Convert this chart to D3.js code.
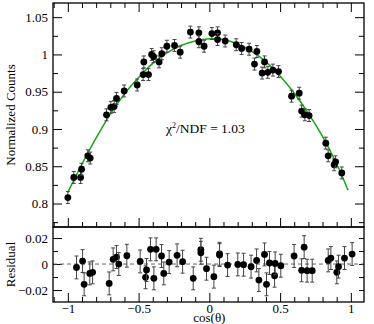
<!DOCTYPE html>
<meta charset="utf-8">
<style>
body { margin: 0; background: #fff; }
svg text { font-family: "Liberation Serif", "Times New Roman", Times, serif !important; }
.frame { fill: none; stroke: #000; stroke-width: 1.3px; }
.tick line { stroke: #000; stroke-width: 1px; }
.tick text { font-size: 13px; fill: #000; }
.fit { fill: none; stroke: #14a814; stroke-width: 1.5px; }
.err { stroke: #444; stroke-width: 1px; }
.zero { stroke: #666; stroke-width: 1px; stroke-dasharray: 4,3; }
.label { font-size: 13px; fill: #000; }
</style>
<body>
<script src="https://d3js.org/d3.v7.min.js"></script>
<script>

var width = 374,
    height = 324;

// main panel: cos(theta), normalized counts
var cosTheta = [-1.00, -0.958, -0.91, -0.903, -0.859, -0.842, -0.727, -0.696, -0.673, -0.656,
  -0.602, -0.51, -0.468, -0.463, -0.43, -0.408, -0.394, -0.355, -0.336, -0.30,
  -0.246, -0.206, -0.134, -0.074, -0.074, -0.037, 0.018, 0.058, 0.058, 0.112,
  0.19, 0.228, 0.281, 0.319, 0.336, 0.373, 0.39, 0.413, 0.449, 0.489,
  0.581, 0.635, 0.652, 0.675, 0.705, 0.823, 0.84, 0.882, 0.892, 0.936];
var counts = [0.808, 0.835, 0.835, 0.846, 0.864, 0.861, 0.919, 0.929, 0.930, 0.941,
  0.951, 0.959, 0.973, 0.990, 0.973, 1.000, 0.997, 0.990, 1.001, 1.011,
  1.012, 1.003, 1.030, 1.029, 1.017, 1.011, 1.028, 1.029, 1.020, 1.018,
  1.013, 1.008, 1.007, 0.987, 1.004, 0.975, 0.990, 0.976, 0.979, 0.977,
  0.944, 0.948, 0.924, 0.919, 0.918, 0.881, 0.864, 0.852, 0.856, 0.841];
var countErr = 0.008;

var fitCos = [-1.0, -0.9, -0.8, -0.7, -0.6, -0.5, -0.4, -0.3, -0.2, -0.1, 0,
  0.1, 0.2, 0.3, 0.4, 0.5, 0.6, 0.7, 0.8, 0.9, 0.98];
var fitVal = [0.815, 0.853, 0.888, 0.920, 0.947, 0.969, 0.988, 1.002, 1.012, 1.018, 1.021,
  1.020, 1.014, 1.004, 0.990, 0.971, 0.948, 0.921, 0.890, 0.853, 0.818];

// residual panel
var resCos = [-0.939, -0.896, -0.885, -0.845, -0.825, -0.708, -0.680, -0.656, -0.640, -0.583,
  -0.489, -0.451, -0.444, -0.416, -0.392, -0.376, -0.338, -0.322, -0.284, -0.228,
  -0.189, -0.114, -0.060, -0.060, -0.020, 0.032, 0.072, 0.072, 0.129, 0.201,
  0.242, 0.295, 0.334, 0.350, 0.390, 0.404, 0.425, 0.461, 0.465, 0.505,
  0.599, 0.652, 0.670, 0.691, 0.727, 0.840, 0.859, 0.901, 0.913, 0.955, 1.009];
var resVal = [-0.0026, 0.0023, -0.0156, -0.0072, -0.0064, -0.0149, 0.0036, 0.0054, 0.0, 0.0064,
  0.0020, -0.0102, -0.0046, 0.0113, -0.0110, 0.0113, 0.0062, -0.0072, 0.0015, 0.0067,
  0.0018, -0.0110, 0.0110, 0.0087, -0.0036, -0.0097, 0.0079, 0.0069, -0.0008, -0.0003,
  -0.0005, -0.0020, 0.0028, -0.0123, 0.0074, -0.0156, 0.0008, -0.0090, 0.0005, -0.0013,
  0.0062, -0.0048, 0.0130, -0.0051, -0.0051, 0.0028, 0.0046, -0.0064, -0.0020, 0.0046, 0.0077];
var resErr = 0.0088;

var xMajor = [-1, -0.5, 0, 0.5, 1];
var xMinor = [-1.1, -0.9, -0.8, -0.7, -0.6, -0.4, -0.3, -0.2, -0.1, 0.1, 0.2, 0.3, 0.4, 0.6, 0.7, 0.8, 0.9];
var yMajor = [0.8, 0.85, 0.9, 0.95, 1, 1.05];
var yMinor = [0.775, 0.825, 0.875, 0.925, 0.975, 1.025];
var rMajor = [-0.02, 0, 0.02];
var rMinor = [-0.01, 0.01];

var left = 53, right = 364, top1 = 3, bot1 = 227, top2 = 227, bot2 = 302;

var x = d3.scaleLinear().domain([-1.105, 1.093]).range([left, right]);
var y = d3.scaleLinear().domain([0.7685, 1.069]).range([bot1, top1]);
var yr = d3.scaleLinear().domain([-0.0292, 0.0285]).range([bot2, top2]);

var fmt = d3.format("~g");

var svg = d3.select("body").append("svg")
    .attr("width", width)
    .attr("height", height);

function ticks(axis, at, vals, size, labels) {
  var g = svg.append("g").attr("transform", at)
    .call(axis.tickValues(vals).tickSize(size).tickPadding(5)
      .tickFormat(labels ? fmt : ""));
  g.select(".domain").remove();
  g.attr("font-family", null).attr("font-size", null);
  return g;
}

// ---- top panel ----
ticks(d3.axisLeft(y), "translate(" + left + ",0)", yMajor, -9, true);
ticks(d3.axisLeft(y), "translate(" + left + ",0)", yMinor, -5, false);
ticks(d3.axisRight(y), "translate(" + right + ",0)", yMajor, -9, false);
ticks(d3.axisRight(y), "translate(" + right + ",0)", yMinor, -5, false);
ticks(d3.axisTop(x), "translate(0," + bot1 + ")", xMajor, 9, false);
ticks(d3.axisTop(x), "translate(0," + bot1 + ")", xMinor, 5, false);
ticks(d3.axisBottom(x), "translate(0," + top1 + ")", xMajor, 9, false);
ticks(d3.axisBottom(x), "translate(0," + top1 + ")", xMinor, 5, false);

var line = d3.line()
    .curve(d3.curveCatmullRom)
    .x(function(d, i) { return x(fitCos[i]); })
    .y(function(d) { return y(d); });

svg.append("path")
    .datum(fitVal)
    .attr("class", "fit")
    .attr("d", line);

var pts = svg.append("g").selectAll("g")
    .data(counts)
  .enter().append("g");

pts.append("line").attr("class", "err")
    .attr("x1", function(d, i) { return x(cosTheta[i]); })
    .attr("x2", function(d, i) { return x(cosTheta[i]); })
    .attr("y1", function(d) { return y(d - countErr); })
    .attr("y2", function(d) { return y(d + countErr); });
[-1, 1].forEach(function(s) {
  pts.append("line").attr("class", "err")
      .attr("x1", function(d, i) { return x(cosTheta[i]) - 2; })
      .attr("x2", function(d, i) { return x(cosTheta[i]) + 2; })
      .attr("y1", function(d) { return y(d + s * countErr); })
      .attr("y2", function(d) { return y(d + s * countErr); });
});
pts.append("circle")
    .attr("cx", function(d, i) { return x(cosTheta[i]); })
    .attr("cy", function(d) { return y(d); })
    .attr("r", 3.4);

svg.append("rect").attr("class", "frame")
    .attr("x", left).attr("y", top1)
    .attr("width", right - left).attr("height", bot1 - top1);

var chi = svg.append("text")
    .attr("class", "label")
    .attr("x", 166)
    .attr("y", 133)
    .style("font-size", "13.5px");
chi.append("tspan").text("\u03c7");
chi.append("tspan").attr("dy", -5).style("font-size", "8px").text("2");
chi.append("tspan").attr("dy", 5).text("/NDF = 1.03");

svg.append("text")
    .attr("class", "label")
    .attr("transform", "translate(15," + (top1 + bot1) / 2 + ")rotate(-90)")
    .attr("text-anchor", "middle")
    .text("Normalized Counts");

// ---- residual panel ----
ticks(d3.axisLeft(yr), "translate(" + left + ",0)", rMajor, -9, true);
ticks(d3.axisLeft(yr), "translate(" + left + ",0)", rMinor, -5, false);
ticks(d3.axisRight(yr), "translate(" + right + ",0)", rMajor, -5, false);
ticks(d3.axisRight(yr), "translate(" + right + ",0)", rMinor, -5, false);
ticks(d3.axisBottom(x), "translate(0," + bot2 + ")", xMajor, -9, true)
    .selectAll("text").attr("y", 2);
ticks(d3.axisBottom(x), "translate(0," + bot2 + ")", xMinor, -5, false);

svg.append("line").attr("class", "zero")
    .attr("x1", left).attr("x2", right)
    .attr("y1", yr(0)).attr("y2", yr(0));

var rp = svg.append("g").selectAll("g")
    .data(resVal)
  .enter().append("g");

rp.append("line").attr("class", "err")
    .attr("x1", function(d, i) { return x(resCos[i]); })
    .attr("x2", function(d, i) { return x(resCos[i]); })
    .attr("y1", function(d) { return yr(d - resErr); })
    .attr("y2", function(d) { return yr(d + resErr); });
[-1, 1].forEach(function(s) {
  rp.append("line").attr("class", "err")
      .attr("x1", function(d, i) { return x(resCos[i]) - 2; })
      .attr("x2", function(d, i) { return x(resCos[i]) + 2; })
      .attr("y1", function(d) { return yr(d + s * resErr); })
      .attr("y2", function(d) { return yr(d + s * resErr); });
});
rp.append("circle")
    .attr("cx", function(d, i) { return x(resCos[i]); })
    .attr("cy", function(d) { return yr(d); })
    .attr("r", 3.4);

svg.append("rect").attr("class", "frame")
    .attr("x", left).attr("y", top2)
    .attr("width", right - left).attr("height", bot2 - top2);

svg.append("text")
    .attr("class", "label")
    .attr("transform", "translate(15," + (top2 + bot2) / 2 + ")rotate(-90)")
    .attr("text-anchor", "middle")
    .text("Residual");

svg.append("text")
    .attr("class", "label")
    .attr("x", x(0))
    .attr("y", 321.5)
    .attr("text-anchor", "middle")
    .text("cos(\u03b8)");

</script>
